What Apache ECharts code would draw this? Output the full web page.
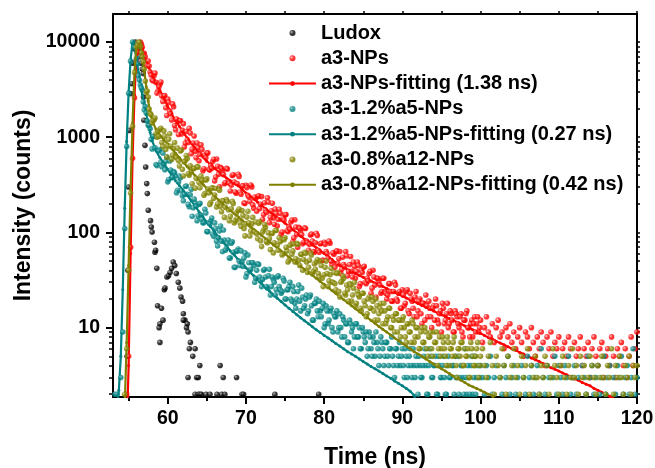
<!DOCTYPE html>
<html><head><meta charset="utf-8">
<script src="https://cdn.jsdelivr.net/npm/echarts@6/dist/echarts.min.js"></script>
<style>html,body{margin:0;padding:0;background:#fff}#c{width:655px;height:468px}</style>
</head><body><div id="c"></div>
<script>
// ---- channel grids of the decay histograms (ns) ----
const T0 = 53, DT = 0.25;        // main channels
const TB0 = 56.125;              // interleaved channels (56.125 ... 99.875)

// ---- axis ticks ----
const X_TICKS = [60, 70, 80, 90, 100, 110, 120];
const X_MINOR = [55, 65, 75, 85, 95, 105, 115];
const Y_TICKS = [10, 100, 1000, 10000];
const Y_MINOR = [2,3,4,5,6,7,8,9,20,30,40,50,60,70,80,90,200,300,400,500,600,700,800,900,2000,3000,4000,5000,6000,7000,8000,9000];

// ---- Ludox (IRF) points : time / counts ----
const LUDOX_T = [54.8,54.9,55.0,55.1,55.25,55.4,55.55,55.7,55.85,56.0,56.15,56.3,56.45,56.6,56.75,56.87,56.9,56.96,57.09,57.18,57.31,57.39,57.51,57.8,57.9,58.0,58.3,58.37,58.45,58.6,58.7,58.9,59.0,59.0,59.2,59.4,59.56,59.65,59.9,60.1,60.3,60.5,60.7,60.9,61.1,61.35,61.55,61.7,61.9,62.0,62.2,62.0,62.4,62.5,62.6,62.6,62.76,62.9,63.2,63.5,63.5,63.7,63.9,63.9,64.1,64.1,64.3,64.9,65.4,66.3,66.7,66.9,67.1,67.3,68.8,69.5,69.7,73.7,79.3];
const LUDOX_V = [5,40,300,1180,2870,3650,6000,8500,10000,9700,9000,8000,7000,6000,5200,4660,2640,1510,822,487,326,256,171,133,114,101,79,62,65,42,17,10,11,7,16,12,25,26,34,35,38,42,49,45,37,30,26,21,19,14,12,12,10,11,9,3,6,7,5,6,2,3,3,2,4,2,2,2,2,2,4,2,3,2,3,2,2,2,2];

// ---- a3-NPs counts (4 channels per ns, from 53 ns) ----
const A3 = [
1,1,1,1, 1,1,1,2, 5,70,600,2600, 6500,9200,10000,8800,
7630,5800,6330,4850, 4000,4430,3770,3060, 3600,2710,2700,2040, 2520,1880,1520,2090,
1200,1470,1500,1080, 1390,870,940,1240, 670,870,710,870, 566,832,446,649,
683,462,504,556, 348,592,408,484, 448,325,471,340, 273,397,339,258,
409,266,307,204, 312,246,211,301, 180,227,239,178, 238,154,171,231,
127,169,142,176, 117,175,96,142, 153,104,115,129, 80,136,95,113,
105,76,112,81, 65,94,81,62, 98,65,76,51, 79,63,54,77,
46,59,63,47, 63,41,46,63, 35,46,39,49, 33,49,27,40,
43,30,33,37, 23,40,28,33, 31,23,33,24, 20,29,24,19,
30,20,23,16, 25,17,24,15, 23,19,13,24, 15,20,11,18,
22,13,16,10, 17,20,12,14, 9,16,12,18, 11,14,9,15,
13,10,14,8, 12,15,10,11, 8,13,11,9, 12,7,10,13,
9,8,11,7, 10,12,8,9, 6,10,8,11, 7,9,6,8,
10,7,5,9, 8,6,10,7, 5,8,6,9, 7,4,8,6,
9,5,7,6, 8,4,6,7, 5,8,6,3, 7,5,6,8,
4,6,5,7, 3,6,8,5, 4,6,7,3, 5,6,4,8,
5,3,6,5, 7,4,6,3, 5,8,4,6, 9];
const A3_B = [
7800,9700,9500,7500, 7000,5600,5600,4500, 3910,4720,2910,3380, 3800,2370,2740,1690,
2330,1760,2240,1330, 1550,1070,1490,1180, 790,1150,880,1110, 750,1030,610,774,
659,745,466,610, 685,452,473,587, 383,496,302,469, 405,334,464,328,
313,404,266,327, 388,252,309,202, 296,236,315,195, 235,167,243,198,
137,205,162,208, 144,203,122,158, 137,159,101,135, 154,102,108,135,
88,114,70,110, 95,79,110,78, 75,96,63,78, 93,62,77,51,
75,60,81,50, 61,43,64,53, 37,55,44,57, 39,56,34,44,
39,45,29,38, 44,29,31,39, 26,34,21,33, 28,24,33,23,
22,29,19,24, 28,19,24,16, 22,18,25,14, 20,16,21,13,
19,14,18,12, 17,19,13,16, 12,17,11,15, 18,11,14,10,
15,12,9,14, 11,13,9,12, 14,10,8,12, 11,9,13,10];

// ---- a3-1.2%a5-NPs counts ----
const A5 = [
1,2,2,1, 3,9,110,800, 2900,6300,10000,8800, 6700,4420,3530,3140,
1940,1800,1340,1230, 754,1030,518,726, 744,490,519,559, 340,563,376,435,
392,277,391,274, 215,304,252,186, 284,182,205,133, 198,152,126,175,
102,127,132,96, 126,81,88,117, 63,83,68,83, 54,80,43,63,
67,45,49,54, 34,58,40,48, 45,33,47,34, 27,40,34,26,
41,27,32,22, 34,27,23,33, 20,25,27,20, 27,18,20,28,
15,21,17,22, 15,22,12,18, 20,13,15,16, 10,17,11,15,
10,14,13,9, 14,8,12,11, 7,12,9,6, 11,8,10,6,
9,7,5,9, 6,8,5,7, 4,8,6,5, 7,4,6,5,
3,6,5,4, 6,3,5,4, 6,3,4,5, 2,4,3,5,
4,2,6,3, 4,5,2,4, 3,5,2,4, 3,1,4,5,
3,2,4,3, 6,2,3,4, 2,5,3,1, 4,3,2,4,
3,5,2,3, 4,1,3,2, 4,3,5,2, 3,4,2,3,
1,4,3,2, 5,3,4,2, 3,4,2,6, 3,2,4,3,
1,3,5,2, 4,3,2,4, 3,5,2,3, 4,2,3,1,
4,3,2,5, 3,4,2,3, 4,2,3,5, 2,3,4,1,
3,2,4,3, 5,2,3,4, 2,3,6,2, 3];
const A5_B = [
5900,4000,3300,2350, 2100,1480,1330,950, 1020,773,504,718, 549,682,456,620,
360,452,379,424, 262,339,376,243, 251,307,197,249, 148,225,188,150,
202,138,127,160, 102,123,142,91, 110,72,104,81, 106,65,77,54,
77,62,43,64, 50,64,44,61, 37,48,41,48, 30,40,46,31,
32,41,27,35, 22,34,30,25, 35,25,24,31, 20,25,30,19,
24,16,24,19, 26,16,20,14, 21,17,12,18, 15,19,13,18,
11,15,12,16, 9,13,15,10, 10,13,8,11, 7,11,10,8,
11,8,6,10, 8,9,6,8, 5,7,9,6, 5,7,4,7,
5,6,8,4, 6,4,7,5, 4,6,3,5, 4,6,3,4,
5,3,4,6, 2,4,5,3, 4,2,5,3, 4,3,2,5,
3,4,2,3, 5,3,4,2, 3,4,2,5, 3,2,4,3];

// ---- a3-0.8%a12-NPs counts ----
const A12 = [
1,1,1,1, 1,1,2,6, 40,260,1300,4800, 8800,10000,9000,7000,
5200,2990,2640,1780, 1410,1530,1090,1150, 1210,881,1166,743, 816,1087,585,763,
626,768,500,733, 392,569,598,400, 431,471,292,491, 334,391,358,256,
365,260,206,295, 247,185,289,188, 216,144,221,173, 148,212,126,160,
169,126,170,110, 123,167,92,123, 103,129,86,130, 71,106,113,78,
86,97,61,105, 73,88,83,60, 88,64,51,75, 64,49,77,51,
59,40,62,49, 43,61,37,47, 49,37,50,33, 36,50,27,36,
30,38,25,38, 21,31,33,22, 25,29,19,26, 17,24,21,15,
23,17,14,21, 16,19,12,17, 14,18,11,15, 12,16,10,13,
9,14,12,8, 12,10,7,11, 9,12,7,10, 8,6,10,7,
9,5,8,6, 9,7,4,8, 6,7,5,8, 4,6,7,5,
3,6,7,4, 6,5,3,7, 5,4,6,3, 5,6,4,3,
5,7,4,2, 5,4,3,6, 4,2,5,3, 4,6,3,4,
2,5,3,4, 6,2,4,3, 5,3,2,4, 3,5,4,2,
3,6,4,3, 2,4,5,3, 2,4,3,6, 3,4,2,5,
3,4,2,3, 5,4,3,2, 4,3,5,3, 2,4,3,6,
2,4,3,5, 3,2,4,3, 5,2,4,3, 4];
const A12_B = [
9300,9900,7700,6200, 3900,3050,1980,1720, 1495,1590,1000,1020, 1244,801,1027,619,
951,805,651,882, 609,571,718,460, 552,644,415,502, 325,471,370,485,
294,351,246,353, 286,197,292,229, 290,199,278,165, 214,184,211,133,
177,201,133,141, 176,116,151,92, 145,126,104,144, 101,97,125,82,
101,121,80,99, 66,98,78,105, 65,80,58,84, 70,49,73,59,
76,53,75,45, 59,52,60,38, 51,58,39,41, 52,34,45,27,
43,37,31,42, 30,29,37,24, 30,35,23,28, 19,28,22,30,
18,22,16,23, 19,13,20,16, 21,15,20,12, 16,15,18,11,
13,16,10,12, 14,9,12,10, 13,8,11,9, 7,11,8,10,
6,9,7,10, 6,8,9,5, 7,9,6,5, 8,6,4,7,
6,5,8,4, 6,5,7,4, 5,6,3,6, 4,5,7,4];

// ---- fitted curves: 0.25 ns steps to 58 ns, then 0.5 ns steps ----
const FIT_T = [];
for (let t = 53; t <= 58; t += 0.25) FIT_T.push(t);
for (let t = 58.5; t <= 120; t += 0.5) FIT_T.push(t);

const A3_FIT = [
0.3,0.3,0.3,0.3, 0.3,0.3,0.4,0.8, 4,60,600,2800, 6800,9400,10000,8600, 7200,6300,5600,5000, 4500,
3700,3100,2600,2100,1750,1500,1300,1120,980,870,
770,690,620,560,514,470,434,400,374,350,
329,310,284,260,242,225,208,192,178,165,
154,143,134,125,116,107,99,91,85,79,
74,69,64.5,60,56,52,48,45,42.5,40.5,
38.7,37,35.4,33.8,32.3,30.9,29.5,28.2,27,25.8,
24.6,23.5,22.5,21.5,20.5,19.6,18.8,17.9,17.1,16.4,
15.7,15,14.3,13.7,13.1,12.5,12,11.4,10.9,10.4,
10,9.5,9.1,8.7,8.3,7.9,7.6,7.2,6.9,6.6,
6.3,6,5.8,5.5,5.3,5,4.8,4.6,4.4,4.2,
4,3.8,3.65,3.5,3.35,3.2,3.05,2.9,2.8,2.65,
2.55,2.45,2.3,2.2,2.1,2,1.9,1.8,1.4];

const A5_FIT = [
0.5,0.8,1.3,2.2, 5,25,180,900, 3000,6500,10000,8900, 6700,4800,3600,2800, 2200,1750,1400,1120, 920,
720,610,530,460,400,350,310,275,245,215,
190,165,145,128,115,101,90,80,72,64,
58,52,47,42.5,38.5,35,32,29,26.5,24.3,
22.3,20.4,18.8,17.3,16,14.8,13.7,12.7,11.8,11,
10.2,9.5,8.9,8.3,7.8,7.3,6.8,6.4,6,5.6,
5.3,5,4.7,4.4,4.15,3.9,3.7,3.5,3.3,3.1,
2.95,2.75,2.6,2.45,2.3,2.15,1.95,1.4];

const A12_FIT = [
0.3,0.3,0.3,0.3, 0.3,0.5,1.5,7, 45,280,1400,5000, 8900,10000,9000,7000, 5000,3400,2400,1800, 1500,
1210,1050,940,850,760,680,610,545,490,440,
395,355,320,290,264,240,219,200,184,170,
158,146,135,125,116,108,100,93,86,80,
74,69,64,59.5,55,51,47.5,44,41,38,
35.5,33,30.5,28.5,26.5,24.5,22.8,21.2,19.7,18.3,
17,15.8,14.7,13.7,12.8,11.9,11.1,10.3,9.6,9,
8.4,7.8,7.3,6.8,6.4,6,5.6,5.3,5,4.7,
4.4,4.15,3.9,3.7,3.5,3.3,3.1,2.95,2.8,2.65,
2.5,2.4,2.3,2.2,2.1,2,1.95,1.4];

const NAMES = ['Ludox','a3-NPs','a3-NPs-fitting (1.38 ns)','a3-1.2%a5-NPs','a3-1.2%a5-NPs-fitting (0.27 ns)','a3-0.8%a12-NPs','a3-0.8%a12-NPs-fitting (0.42 ns)'];

// ---- build ----
const F = '"Liberation Sans", Arial, sans-serif';
const grid = (v, v2) => v.map((y, i) => [T0 + i * DT, y]).concat(v2.map((y, i) => [TB0 + i * DT, y]));
const fit = v => v.map((y, i) => [FIT_T[i], y]);
const ball = (base, hi) => new echarts.graphic.RadialGradient(0.35, 0.35, 0.7,
  [{offset: 0, color: hi}, {offset: 0.5, color: base}, {offset: 1, color: base}]);

const Y_MIN = 1.87, Y_MAX = 19700, X_MIN = 53, X_MAX = 120;
const blackLine = {color: '#000', width: 2};

function scatter(name, data, base, hi, z) {
  return {name, type: 'scatter', data, z, symbol: 'circle', symbolSize: 5.6,
    itemStyle: {color: ball(base, hi)}, emphasis: {disabled: true}, silent: true};
}
function line(name, data, color, z) {
  return {name, type: 'line', data, z, symbol: 'circle', symbolSize: 3, showSymbol: true,
    lineStyle: {color, width: 2.2}, itemStyle: {color}, emphasis: {disabled: true}, silent: true};
}

const chart = echarts.init(document.getElementById('c'), null, {renderer: 'canvas'});
chart.setOption({
  animation: false,
  backgroundColor: '#fff',
  grid: {left: 113, right: 18, top: 14, bottom: 71, outerBoundsMode: 'none'},
  legend: {
    orient: 'vertical', left: 263, top: 18, itemWidth: 47, itemHeight: 6, itemGap: 5.3,
    selectedMode: false, data: NAMES,
    textStyle: {fontSize: 20, fontWeight: 'bold', fontFamily: F, color: '#000', lineHeight: 20}
  },
  xAxis: [
    {type: 'value', position: 'bottom', min: X_MIN, max: X_MAX,
     axisLine: {show: true, lineStyle: blackLine},
     axisTick: {show: true, customValues: X_TICKS, length: 7, lineStyle: blackLine},
     axisLabel: {customValues: X_TICKS, fontSize: 19.5, fontWeight: 'bold', fontFamily: F, color: '#000', margin: 12},
     splitLine: {show: false},
     name: 'Time (ns)', nameLocation: 'middle', nameGap: 49,
     nameTextStyle: {fontSize: 23, fontWeight: 'bold', fontFamily: F, color: '#000'}},
    {type: 'value', position: 'bottom', min: X_MIN, max: X_MAX,
     axisLine: {show: false}, axisLabel: {show: false}, splitLine: {show: false},
     axisTick: {show: true, customValues: X_MINOR, length: 4, lineStyle: blackLine}},
    {type: 'value', position: 'top', min: X_MIN, max: X_MAX,
     axisLine: {show: true, lineStyle: blackLine}, axisLabel: {show: false}, splitLine: {show: false},
     axisTick: {show: true, customValues: X_TICKS.concat(X_MINOR), length: 3, lineStyle: {color: '#000', width: 1.5}}}
  ],
  yAxis: [
    {type: 'log', logBase: 10, position: 'left', min: Y_MIN, max: Y_MAX,
     axisLine: {show: true, lineStyle: blackLine},
     axisTick: {show: true, customValues: Y_TICKS, length: 7, lineStyle: blackLine},
     axisLabel: {customValues: Y_TICKS, formatter: v => String(Math.round(v)), fontSize: 19.5, fontWeight: 'bold', fontFamily: F, color: '#000', margin: 13},
     splitLine: {show: false}, minorTick: {show: false},
     name: 'Intensity (counts)', nameLocation: 'middle', nameGap: 77,
     nameTextStyle: {fontSize: 23, fontWeight: 'bold', fontFamily: F, color: '#000'}},
    {type: 'log', logBase: 10, position: 'left', min: Y_MIN, max: Y_MAX,
     axisLine: {show: false}, axisLabel: {show: false}, splitLine: {show: false},
     axisTick: {show: true, customValues: Y_MINOR, length: 4, lineStyle: {color: '#000', width: 1.5}}},
    {type: 'log', logBase: 10, position: 'right', min: Y_MIN, max: Y_MAX,
     axisLine: {show: true, lineStyle: blackLine}, axisLabel: {show: false}, splitLine: {show: false},
     axisTick: {show: true, customValues: Y_TICKS.concat(Y_MINOR), length: 3, lineStyle: {color: '#000', width: 1.5}}}
  ],
  // each fit line sits just under its own data cloud
  series: [
    scatter(NAMES[0], LUDOX_T.map((t, i) => [t, LUDOX_V[i]]), '#000000', '#a0a0a0', 2),
    line(NAMES[2], fit(A3_FIT), '#ff0000', 3),
    scatter(NAMES[1], grid(A3, A3_B), '#ff0000', '#ffb4b4', 4),
    line(NAMES[4], fit(A5_FIT), '#008080', 5),
    scatter(NAMES[3], grid(A5, A5_B), '#008080', '#80c6c6', 6),
    line(NAMES[6], fit(A12_FIT), '#808000', 7),
    scatter(NAMES[5], grid(A12, A12_B), '#808000', '#c9c97c', 8)
  ]
});
</script>
</body></html>
